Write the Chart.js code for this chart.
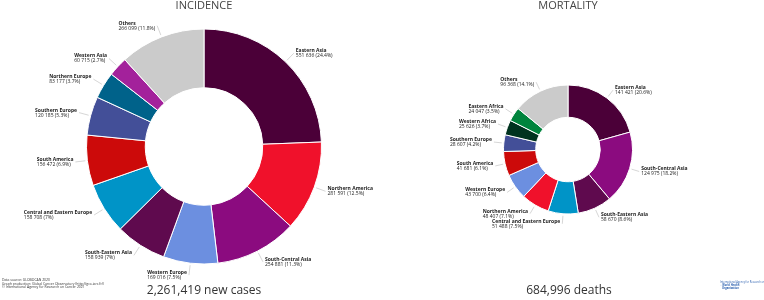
<!DOCTYPE html>
<html>
<head>
<meta charset="utf-8">
<script src="https://cdn.jsdelivr.net/npm/chart.js@4/dist/chart.umd.min.js"></script>
<style>
  body { margin: 0; width: 764px; height: 300px; background: #fff; font-family: 'Open Sans', sans-serif; overflow: hidden; }
  .wrap { position: absolute; top: 0; width: 382px; height: 300px; }
  .title { position: absolute; top: -3px; width: 100%; font-size: 11px; color: #444; }
  .total { position: absolute; top: 281px; font-size: 12px; color: #333; }
  .note { position: absolute; left: 2px; top: 278px; font-size: 3.4px; line-height: 3.6px; color: #333; white-space: nowrap; }
  .logo { position: absolute; left: 720px; top: 281px; font-size: 2.6px; line-height: 3px; color: #2a5fae; white-space: nowrap; }
</style>
</head>
<body>
<div class="wrap" style="left:0"><canvas id="incidenceChart"></canvas></div>
<div class="wrap" style="left:382px"><canvas id="mortalityChart"></canvas></div>
<div class="title" style="left:0;width:408px;text-align:center">INCIDENCE</div>
<div class="title" style="left:382px;width:372px;text-align:center">MORTALITY</div>
<div class="total" style="left:0;width:408px;text-align:center">2,261,419 new cases</div>
<div class="total" style="left:382px;width:374px;text-align:center">684,996 deaths</div>
<div class="note">Data source: GLOBOCAN 2020<br>Graph production: Global Cancer Observatory (http://gco.iarc.fr/)<br>© International Agency for Research on Cancer 2021</div>
<div class="logo">International Agency for Research on Cancer<br><b>&#9675; World Health<br>&nbsp;&nbsp;&nbsp;Organization</b></div>
<script>
'use strict';

const incidenceLabels = ['Eastern Asia', 'Northern America', 'South-Central Asia', 'Western Europe',
  'South-Eastern Asia', 'Central and Eastern Europe', 'South America', 'Southern Europe',
  'Northern Europe', 'Western Asia', 'Others'];
const incidenceValues = [551636, 281591, 254881, 169016, 158939, 158708, 156472, 120185, 83177, 60715, 266099];
const incidencePercent = ['24.4%', '12.5%', '11.3%', '7.5%', '7%', '7%', '6.9%', '5.3%', '3.7%', '2.7%', '11.8%'];

const mortalityLabels = ['Eastern Asia', 'South-Central Asia', 'South-Eastern Asia', 'Central and Eastern Europe',
  'Northern America', 'Western Europe', 'South America', 'Southern Europe',
  'Western Africa', 'Eastern Africa', 'Others'];
const mortalityValues = [141421, 124975, 58670, 51488, 48407, 43700, 41681, 28607, 25626, 24047, 96368];
const mortalityPercent = ['20.6%', '18.2%', '8.6%', '7.5%', '7.1%', '6.4%', '6.1%', '4.2%', '3.7%', '3.5%', '14.1%'];

const regionColors = {
  'Eastern Asia': '#4b0038',
  'Northern America': '#f0112b',
  'South-Central Asia': '#8b0b7f',
  'Western Europe': '#6c8fe0',
  'South-Eastern Asia': '#5f0a4e',
  'Central and Eastern Europe': '#0094c7',
  'South America': '#cc0a0a',
  'Southern Europe': '#434f98',
  'Northern Europe': '#00628a',
  'Western Asia': '#a3219b',
  'Western Africa': '#00331f',
  'Eastern Africa': '#00843d',
  'Others': '#cbcbcb'
};

const fmt = (v) => String(v).replace(/\B(?=(\d{3})+(?!\d))/g, ' ');

// draws the small two-line labels outside every slice, with a thin leader line
const outsideLabels = {
  id: 'outsideLabels',
  afterDatasetsDraw(chart, args, opts) {
    const { ctx } = chart;
    const meta = chart.getDatasetMeta(0);
    const values = chart.data.datasets[0].data;
    ctx.save();
    meta.data.forEach((arc, i) => {
      const p = arc.getProps(['x', 'y', 'startAngle', 'endAngle', 'outerRadius'], true);
      const mid = (p.startAngle + p.endAngle) / 2;
      const cos = Math.cos(mid);
      const sin = Math.sin(mid);
      const r0 = p.outerRadius + 2;
      const r1 = p.outerRadius + opts.gap;
      const ax = p.x + cos * r1;
      const ay = p.y + sin * r1;
      ctx.strokeStyle = '#bbb';
      ctx.lineWidth = 0.6;
      ctx.beginPath();
      ctx.moveTo(p.x + cos * r0, p.y + sin * r0);
      ctx.lineTo(ax, ay);
      ctx.stroke();

      const name = chart.data.labels[i];
      const line2 = `${fmt(values[i])} (${opts.percent[i]})`;
      ctx.font = 'bold 5px "Open Sans"';
      const w1 = ctx.measureText(name).width;
      ctx.font = '5px "Open Sans"';
      const w2 = ctx.measureText(line2).width;
      const w = Math.max(w1, w2);
      const left = cos >= 0 ? ax + 2 : ax - 2 - w;
      ctx.textBaseline = 'middle';
      ctx.fillStyle = '#222';
      ctx.font = 'bold 5px "Open Sans"';
      ctx.fillText(name, left, ay - 2.5);
      ctx.font = '5px "Open Sans"';
      ctx.fillText(line2, left, ay + 2.5);
    });
    ctx.restore();
  }
};

function makeDonut(id, labels, values, percent, padding, gap) {
  // eslint-disable-next-line no-new
  new Chart(document.getElementById(id), {
    type: 'doughnut',
    data: {
      labels,
      datasets: [{
        data: values,
        backgroundColor: labels.map((l) => regionColors[l]),
        borderColor: '#fff',
        borderWidth: 1
      }]
    },
    options: {
      responsive: true,
      maintainAspectRatio: false,
      animation: false,
      cutout: '50%',
      layout: { padding },
      plugins: {
        legend: { display: false },
        tooltip: { enabled: false },
        outsideLabels: { percent, gap }
      }
    },
    plugins: [outsideLabels]
  });
}

makeDonut('incidenceChart', incidenceLabels, incidenceValues, incidencePercent,
  { left: 86, right: 60, top: 28.5, bottom: 35.5 }, 12);
makeDonut('mortalityChart', mortalityLabels, mortalityValues, mortalityPercent,
  { left: 121, right: 131, top: 84.5, bottom: 85.5 }, 10);
</script>
</body>
</html>
